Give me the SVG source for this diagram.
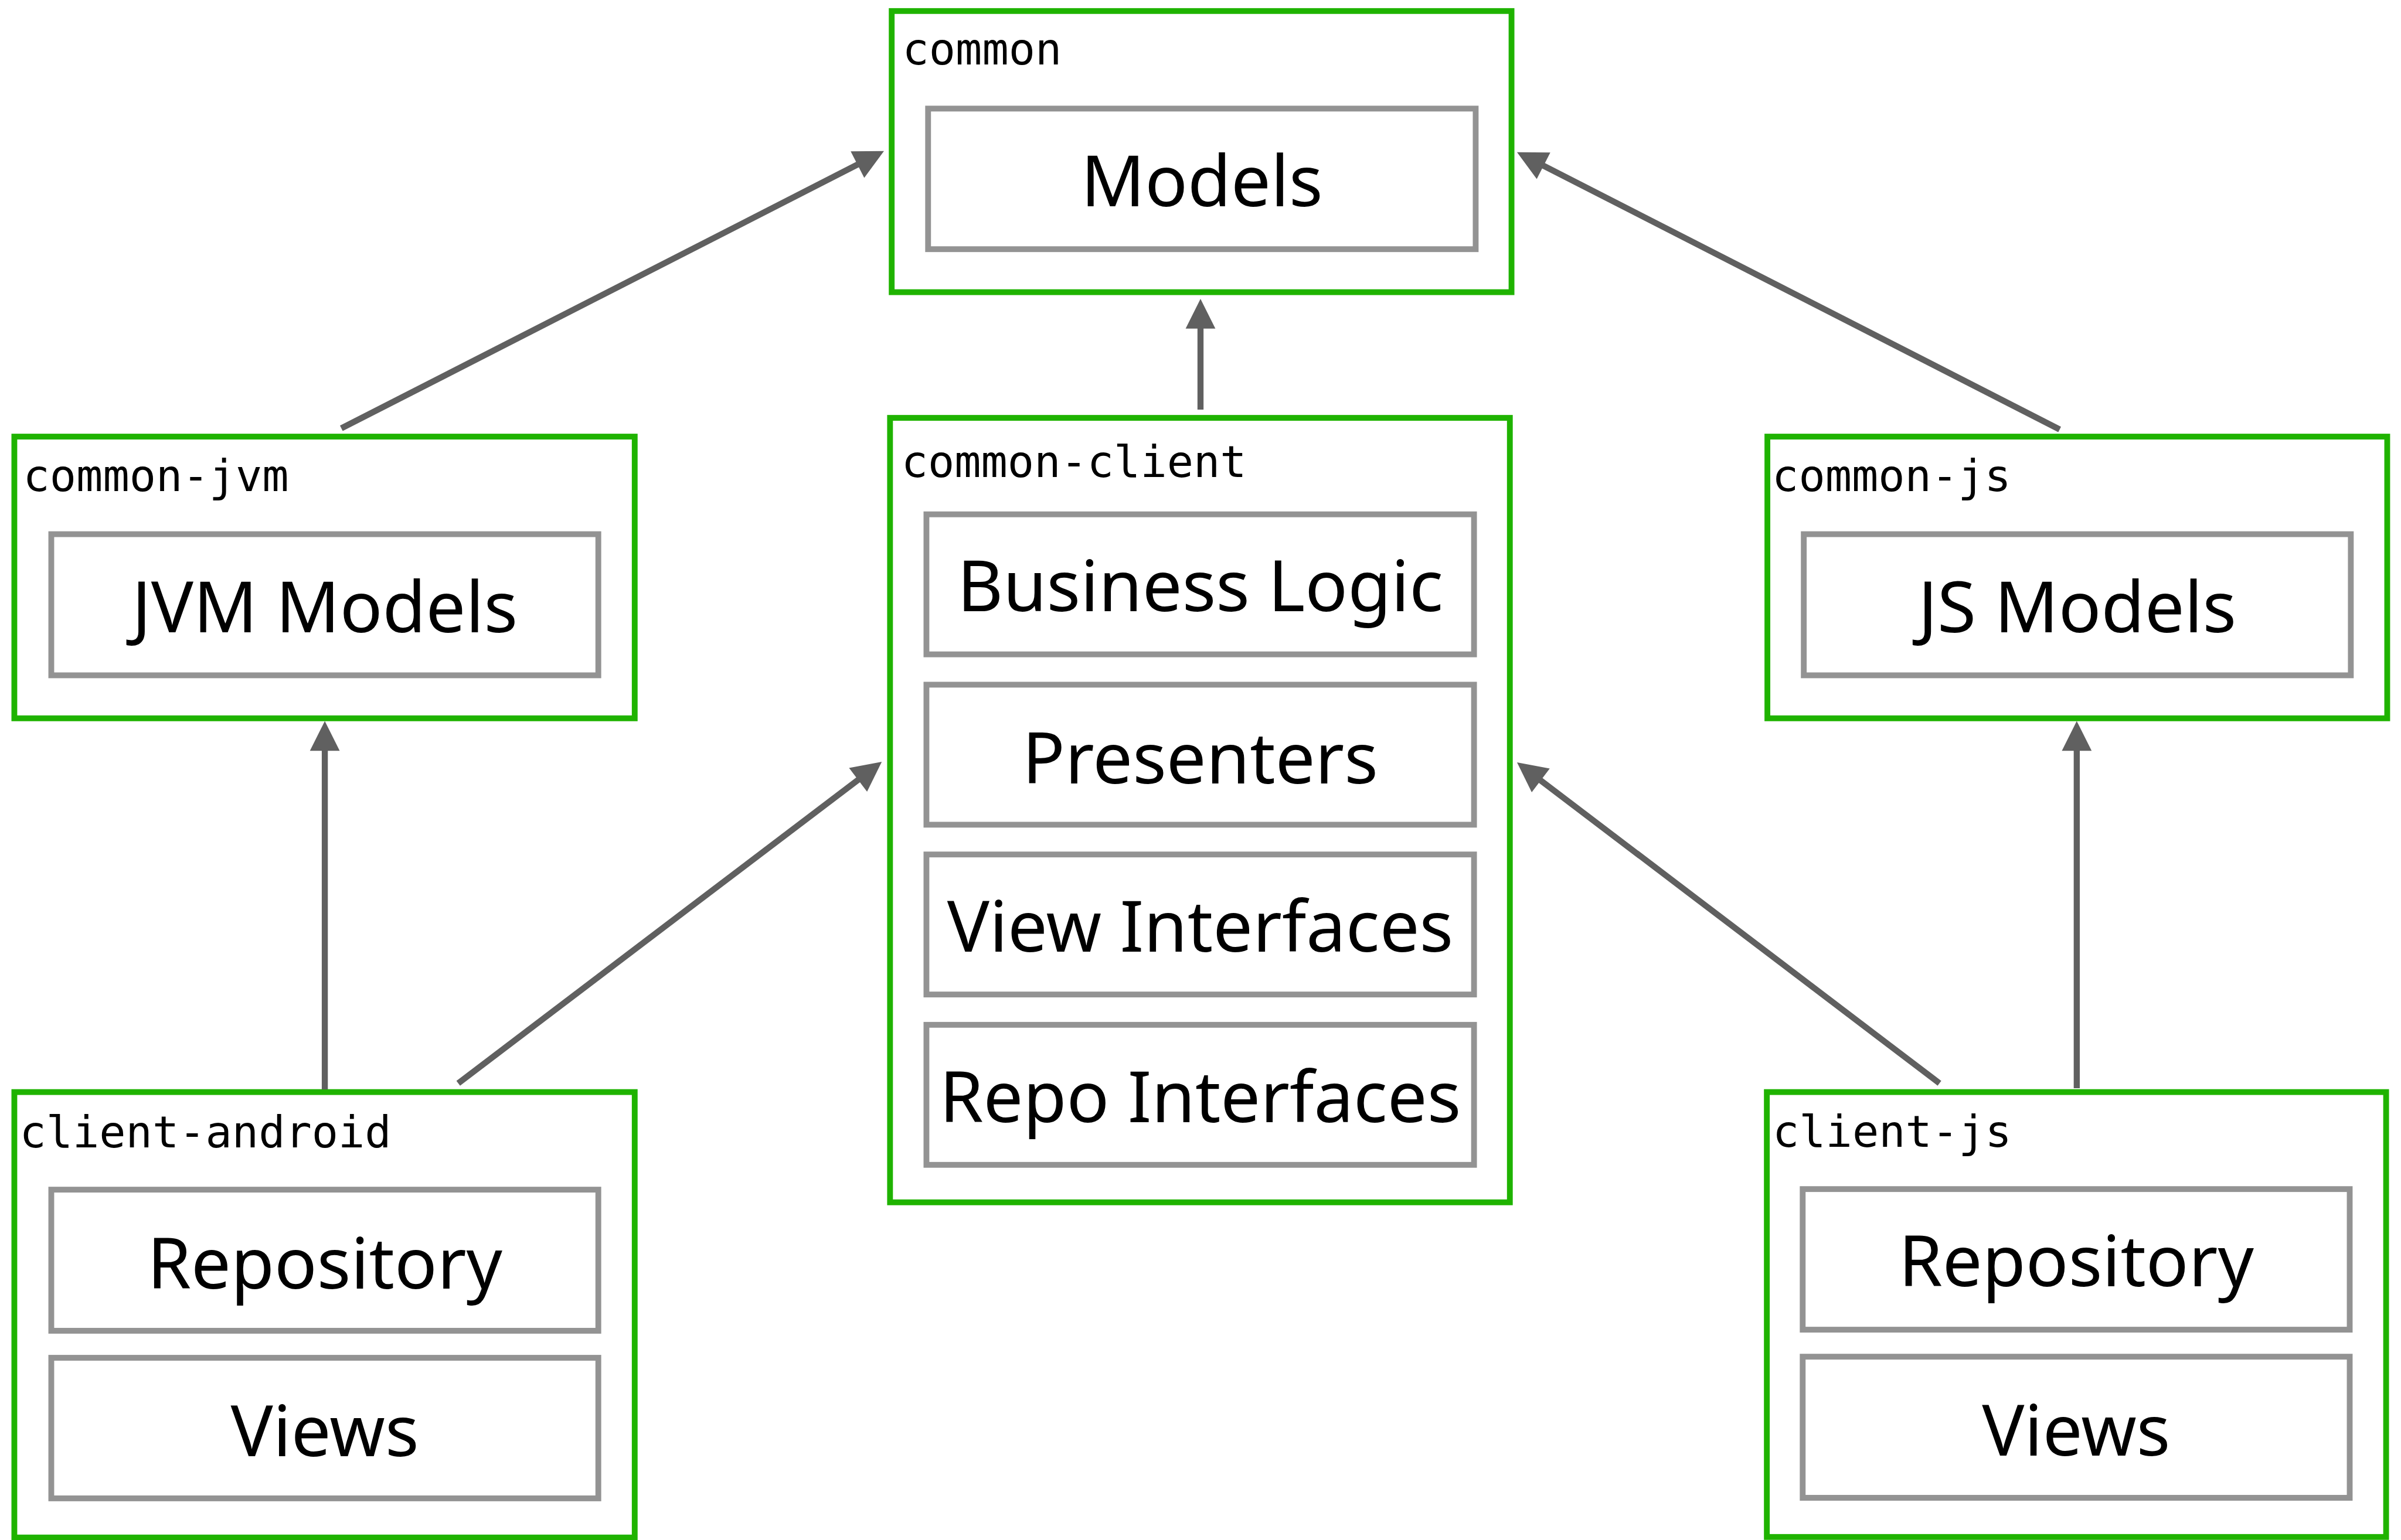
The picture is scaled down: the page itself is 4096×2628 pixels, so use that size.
<svg xmlns="http://www.w3.org/2000/svg" width="4096" height="2628" viewBox="0 0 4096 2628">
<style>
.outer{fill:#ffffff;stroke:#1fb300;stroke-width:10.5}
.inner{fill:#ffffff;stroke:#939393;stroke-width:10.5}
.lbl{font-family:"DejaVu Sans Mono","Liberation Mono",monospace;font-size:80px;fill:#000000}
.txt{font-family:"Noto Sans","Open Sans",sans-serif;font-size:128px;text-anchor:middle;fill:#000000}
.conn{stroke:#606060;stroke-width:11;fill:none;stroke-linecap:butt}
</style>
<defs>
<marker id="arr" markerUnits="userSpaceOnUse" orient="auto" viewBox="-4 -27 54 54" refX="0" refY="0" markerWidth="54" markerHeight="54" overflow="visible">
<path d="M-4,-27 L50,0 L-4,27 Z" fill="#606060"/>
</marker>
</defs>
<rect x="0" y="0" width="4096" height="2628" fill="#ffffff"/>
<g transform="scale(0.940744)">
<g id="common">
<rect class="outer" x="1617" y="20" width="1124" height="510"/>
<text class="lbl" x="1636.5" y="117">common</text>
<rect class="inner" x="1683" y="197" width="993" height="255"/>
<text class="txt" x="2179.5" y="374">Models</text>
</g>
<g id="common-jvm">
<rect class="outer" x="26" y="792" width="1125" height="511"/>
<text class="lbl" x="42" y="891">common-jvm</text>
<rect class="inner" x="93" y="969" width="992" height="256"/>
<text class="txt" x="589" y="1147">JVM Models</text>
</g>
<g id="common-js">
<rect class="outer" x="3205" y="792" width="1124" height="511"/>
<text class="lbl" x="3213.5" y="891">common-js</text>
<rect class="inner" x="3271" y="969" width="992" height="256"/>
<text class="txt" x="3767" y="1147">JS Models</text>
</g>
<g id="common-client">
<rect class="outer" x="1614" y="758" width="1124" height="1423"/>
<text class="lbl" x="1634.5" y="865">common-client</text>
<rect class="inner" x="1680" y="933" width="993" height="254"/>
<text class="txt" x="2176.5" y="1109">Business Logic</text>
<rect class="inner" x="1680" y="1242" width="993" height="254"/>
<text class="txt" x="2176.5" y="1421">Presenters</text>
<rect class="inner" x="1680" y="1550" width="993" height="254"/>
<text class="txt" x="2176.5" y="1726">View Interfaces</text>
<rect class="inner" x="1680" y="1859" width="993" height="254"/>
<text class="txt" x="2176.5" y="2036">Repo Interfaces</text>
</g>
<g id="client-android">
<rect class="outer" x="26" y="1981" width="1125" height="808"/>
<text class="lbl" x="35.5" y="2081">client-android</text>
<rect class="inner" x="93" y="2158" width="992" height="256"/>
<text class="txt" x="589" y="2337">Repository</text>
<rect class="inner" x="93" y="2463" width="992" height="255"/>
<text class="txt" x="589" y="2641">Views</text>
</g>
<g id="client-js">
<rect class="outer" x="3204" y="1981" width="1123" height="807"/>
<text class="lbl" x="3214.5" y="2080.5">client-js</text>
<rect class="inner" x="3269" y="2157" width="992" height="255"/>
<text class="txt" x="3765" y="2333">Repository</text>
<rect class="inner" x="3269" y="2461" width="992" height="256"/>
<text class="txt" x="3765" y="2640">Views</text>
</g>
<g id="connectors">
<line class="conn" x1="619" y1="777" x2="1558.5" y2="296.8" marker-end="url(#arr)"/>
<line class="conn" x1="2177" y1="743" x2="2177" y2="592" marker-end="url(#arr)"/>
<line class="conn" x1="3735" y1="779" x2="2795.5" y2="298.8" marker-end="url(#arr)"/>
<line class="conn" x1="589" y1="1976" x2="589" y2="1358" marker-end="url(#arr)"/>
<line class="conn" x1="831" y1="1965" x2="1559.2" y2="1412.2" marker-end="url(#arr)"/>
<line class="conn" x1="3517" y1="1965" x2="2790.8" y2="1413.3" marker-end="url(#arr)"/>
<line class="conn" x1="3766" y1="1974" x2="3766" y2="1358" marker-end="url(#arr)"/>
</g>
</g>
</svg>
